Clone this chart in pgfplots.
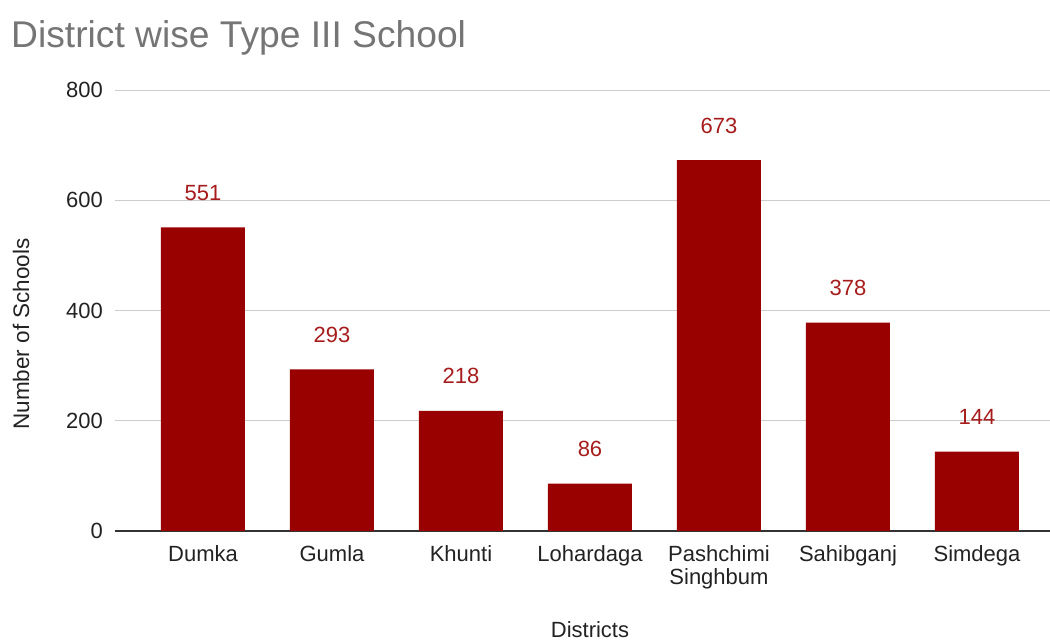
\documentclass[border=0pt]{standalone}
\usepackage{pgfplots}
\pgfplotsset{compat=1.18}
\usepackage{fontspec}
\setmainfont{Liberation Sans}
\definecolor{barred}{HTML}{990000}
\definecolor{lblred}{HTML}{A61C1C}
\definecolor{titlegray}{HTML}{757575}
\definecolor{txt}{HTML}{222222}
\definecolor{gridc}{HTML}{CCCCCC}
\definecolor{axisc}{HTML}{333333}
\begin{document}
\begin{tikzpicture}[x=1pt,y=1pt]
\useasboundingbox (0,0) rectangle (1050,642);
\begin{axis}[
  at={(115pt,111pt)}, anchor=south west, scale only axis,
  width=935pt, height=441pt,
  ybar, bar width=84pt,
  xmin=-0.682, xmax=6.566, ymin=0, ymax=800,
  ytick={0,200,400,600,800},
  xtick={0,1,2,3,4,5,6},
  xticklabels={Dumka,Gumla,Khunti,Lohardaga,{Pashchimi\\Singhbum},Sahibganj,Simdega},
  axis lines*=left,
  y axis line style={draw=none},
  x axis line style={draw=axisc, line width=1.5pt},
  major tick length=0pt,
  ymajorgrids, grid style={gridc, line width=1pt},
  /pgf/number format/assume math mode=true,
  yticklabel style={inner sep=0pt, xshift=-12pt, text=txt, font=\fontsize{22}{25}\selectfont},
  xticklabel style={inner sep=0pt, anchor=north, yshift=-14pt, align=center, text=txt, font=\fontsize{22}{23}\selectfont},
  nodes near coords,
  every node near coord/.append style={anchor=base, yshift=27pt, text=lblred, font=\fontsize{22}{25}\selectfont},
  clip=false,
]
\addplot[fill=barred, draw=none] coordinates {(0,551) (1,293) (2,218) (3,86) (4,673) (5,378) (6,144)};
\end{axis}
\node[anchor=base west, text=titlegray, font=\fontsize{37.2}{40}\selectfont, inner sep=0pt] at (11,594) {District wise Type III School};
\node[anchor=base, text=txt, font=\fontsize{22}{25}\selectfont, inner sep=0pt] at (590,4) {Districts};
\node[rotate=90, text=txt, font=\fontsize{22.5}{25}\selectfont, inner sep=0pt] at (21,308) {Number of Schools};
\end{tikzpicture}
\end{document}
